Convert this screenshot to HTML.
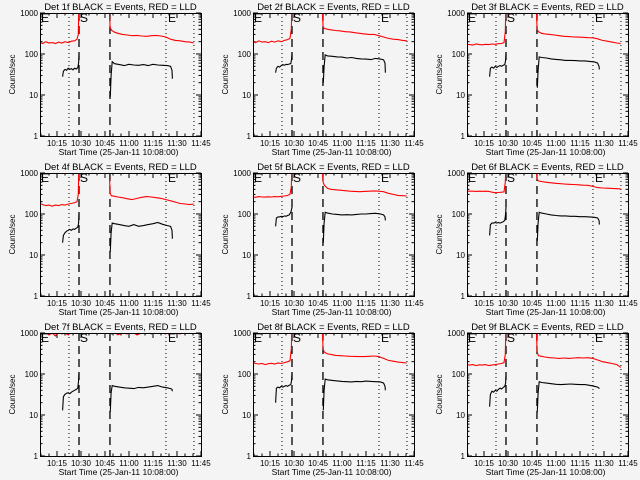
<!DOCTYPE html>
<html><head><meta charset="utf-8">
<style>
html,body{margin:0;padding:0;background:#f4f4f4;}
svg{display:block;}
text{font-family:"Liberation Sans",sans-serif;fill:#000;}
</style></head>
<body>
<svg id="chart" width="640" height="480" viewBox="0 0 640 480" xmlns="http://www.w3.org/2000/svg">
<rect x="0" y="0" width="640" height="480" fill="#f4f4f4"/>
</svg>
<script>
// shared sample times (minutes after 10:00)
const redT1 = [4.5,6,8,10,12,14,16,18,20,22,24,26,27.5,28.3,28.7];
const redT2 = [47.6,48.2,49,51,53,56,59,62,65,68,71,74,77,80,83,86,89,92,95,98,100.5];
const blackT1 = [18.5,19,20,21,22,23,24,25,26,27,28,28.5,28.75];
const blackT2 = [48.3,48.8,49.5,51,54,57,60,63,66,69,72,75,78,81,84,86,86.9,87.1];
const detNames = ["1f","2f","3f","4f","5f","6f","7f","8f","9f"];
const xTickLabels = ["10:15","10:30","10:45","11:00","11:15","11:30","11:45"];
const xTickMinutes = [15,30,45,60,75,90,105];
const yTickValues = [1,10,100,1000];
const yTickLabels = ["1","10","100","1000"];
const dottedLines = [22.5,83.1,100.6];
const dashedLines = [28.75,48.1];

const red1 = [
[190,180,200,185,190,180,195,185,200,190,205,210,230,300,1500],
[200,190,210,195,200,190,205,195,210,200,215,225,240,400,1500],
[170,170,165,175,170,168,172,170,175,172,178,180,190,350,1500],
[180,170,160,165,155,165,160,170,165,175,180,190,200,300,1500],
[260,255,265,260,258,262,260,265,262,270,275,285,300,450,1500],
[360,360,360,355,360,358,360,355,340,330,335,340,345,600,1500],
[1100,950,1050,900,1000,850,1100,950,1000,900,1050,1000,1100,1500,1500],
[185,180,175,180,170,178,182,175,185,180,190,200,210,400,1500],
[170,165,170,160,168,165,170,160,165,170,175,180,190,300,1500]];
const red2 = [
[1500,450,380,340,320,300,290,280,285,275,270,280,285,275,260,230,215,210,200,195,185],
[1500,450,420,400,390,375,365,350,345,330,320,310,300,300,280,260,240,230,225,215,210],
[1500,400,350,320,310,300,290,280,270,265,260,258,255,250,248,235,215,205,195,185,180],
[1500,320,280,270,260,250,235,225,240,255,265,260,250,240,225,210,195,180,175,170,175],
[1500,600,500,420,400,390,380,370,360,355,350,355,360,365,360,350,320,300,285,280,275],
[1500,700,640,620,600,580,565,550,540,530,525,515,505,500,470,440,430,425,420,415,410],
[1500,1100,950,1050,900,1000,950,1050,900,1000,1050,950,1100,1000,950,1050,1000,950,1050,1000,1000],
[1500,400,340,310,300,285,280,275,270,268,265,265,270,275,265,240,215,205,195,190,185],
[1500,350,280,270,260,250,245,240,245,240,245,250,245,250,240,220,200,190,180,170,145]];
const black1 = [
[28,38,42,40,45,42,44,41,45,43,46,60,90],
[35,45,50,48,52,55,53,56,55,57,58,75,100],
[28,45,48,45,50,47,50,52,50,53,55,70,100],
[20,30,35,38,40,42,40,43,42,45,48,60,100],
[50,80,85,85,88,86,90,88,92,95,110,130,150],
[30,55,60,60,62,60,62,60,62,65,70,100,150],
[13,28,32,34,35,33,36,38,40,42,45,70,110],
[20,45,48,46,50,48,50,52,50,53,55,70,100],
[16,32,38,36,40,38,42,45,43,47,50,60,90]];
const black2 = [
[9,30,65,58,55,52,56,54,53,55,52,56,54,53,52,50,40,25],
[20,50,95,90,88,85,84,80,82,78,76,75,73,78,75,72,60,35],
[15,40,85,82,80,76,74,72,70,70,69,68,68,66,64,60,50,42],
[12,35,60,58,55,52,50,55,50,52,55,58,62,56,52,50,40,25],
[20,60,110,105,100,98,95,96,95,98,100,100,102,104,100,95,85,70],
[22,60,110,105,100,95,92,90,90,88,88,86,86,85,83,80,70,55],
[12,35,52,50,48,46,45,44,47,46,48,50,52,48,46,44,42,38],
[13,40,75,72,70,68,66,65,64,66,65,67,66,65,64,60,50,40],
[12,35,65,62,60,58,56,55,56,57,56,55,55,53,50,48,45,44]];

const NS="http://www.w3.org/2000/svg";
const svg=document.getElementById('chart');
function mk(tag,attrs,parent){const e=document.createElementNS(NS,tag);for(const k in attrs)e.setAttribute(k,attrs[k]);(parent||svg).appendChild(e);return e;}
const BW=161,BH=123,BL=40,BT=13;
const xMin=4.375,xMax=105;
for(let p=0;p<9;p++){
  const ox=(p%3)*213.5|0, oy=Math.floor(p/3)*160;
  const L=ox+BL, T=oy+BT, R=L+BW, B=T+BH;
  const xs=m=>L+(m-xMin)/(xMax-xMin)*BW;
  const ys=v=>B-(Math.log10(v))/3*BH;
  const g=mk('g',{});
  
  
  const cid='clip'+p;
  const cp=mk('clipPath',{id:cid},g);mk('rect',{x:L,y:T,width:BW,height:BH},cp);
  const t=mk('text',{x:L+BW/2,y:oy+10,'font-size':9.5,'text-anchor':'middle'},g);
  t.textContent='Det '+detNames[p]+' BLACK = Events, RED = LLD';
  
  
  for(let d=0;d<4;d++){
    const y=ys(yTickValues[d]);
    mk('line',{x1:L,x2:L+5,y1:y,y2:y,stroke:'#000'},g);
    mk('line',{x1:R,x2:R-5,y1:y,y2:y,stroke:'#000'},g);
    const tl=mk('text',{x:L-2,y:y+3,'font-size':8,'text-anchor':'end'},g);
    tl.textContent=yTickLabels[d];
    
    
    if(d<3)for(let k=2;k<10;k++){const yy=ys(yTickValues[d]*k);
      mk('line',{x1:L,x2:L+2.5,y1:yy,y2:yy,stroke:'#000'},g);
      mk('line',{x1:R,x2:R-2.5,y1:yy,y2:yy,stroke:'#000'},g);}
  }
  for(let m=5;m<=105;m+=5){const x=xs(m);if(x<L||x>R+0.5)continue;
    const len=(m%15===0)?5:2.5;
    mk('line',{x1:x,x2:x,y1:B,y2:B-len,stroke:'#000'},g);
    mk('line',{x1:x,x2:x,y1:T,y2:T+len,stroke:'#000'},g);}
  for(let i=0;i<xTickLabels.length;i++){
    const tl=mk('text',{x:xs(xTickMinutes[i]),y:B+10,'font-size':8,'text-anchor':'middle'},g);
    tl.textContent=xTickLabels[i];
    
    
  }
  const xt=mk('text',{x:L+BW/2-2,y:B+19,'font-size':8.5,'text-anchor':'middle'},g);
  xt.textContent='Start Time (25-Jan-11 10:08:00)';
  
  
  const yt=mk('text',{x:0,y:0,'font-size':8,'text-anchor':'middle',transform:'translate('+(ox+15)+','+(T+BH/2)+') rotate(-90)'},g);
  yt.textContent='Counts/sec';
  
  
  dottedLines.forEach(m=>{const ln=mk('line',{x1:xs(m),x2:xs(m),y1:T,y2:B,stroke:'#000','stroke-dasharray':'1,3'},g);
    
    });
  dashedLines.forEach(m=>{const ln=mk('line',{x1:xs(m),x2:xs(m),y1:T,y2:B,stroke:'#000','stroke-width':1.3,'stroke-dasharray':'8,5'},g);
    
    });
  const cg=mk('g',{'clip-path':'url(#'+cid+')'},g);
  function line(ts,vs,col,name){
    const pts=ts.map((m,i)=>xs(m).toFixed(1)+','+ys(vs[i]).toFixed(1)).join(' ');
    const pl=mk('polyline',{points:pts,fill:'none',stroke:col,'stroke-width':1.1},cg);
    
    
  }
  line(redT1,red1[p],'#ff0000','lld-series-pre');
  line(redT2,red2[p],'#ff0000','lld-series-post');
  line(blackT1,black1[p],'#000','events-series-pre');
  line(blackT2,black2[p],'#000','events-series-post');
  const bx=mk('rect',{x:L+0.5,y:T+0.5,width:BW,height:BH,fill:'none',stroke:'#000'},g);
  
  
  [['E',L+1],['S',xs(28.75)+1],['E',xs(83.1)+2]].forEach(([s,x])=>{
    const m=mk('text',{x:x,y:T+9,'font-size':12},g);
    m.textContent=s;
    
    
  });
}
</script>
</body></html>
